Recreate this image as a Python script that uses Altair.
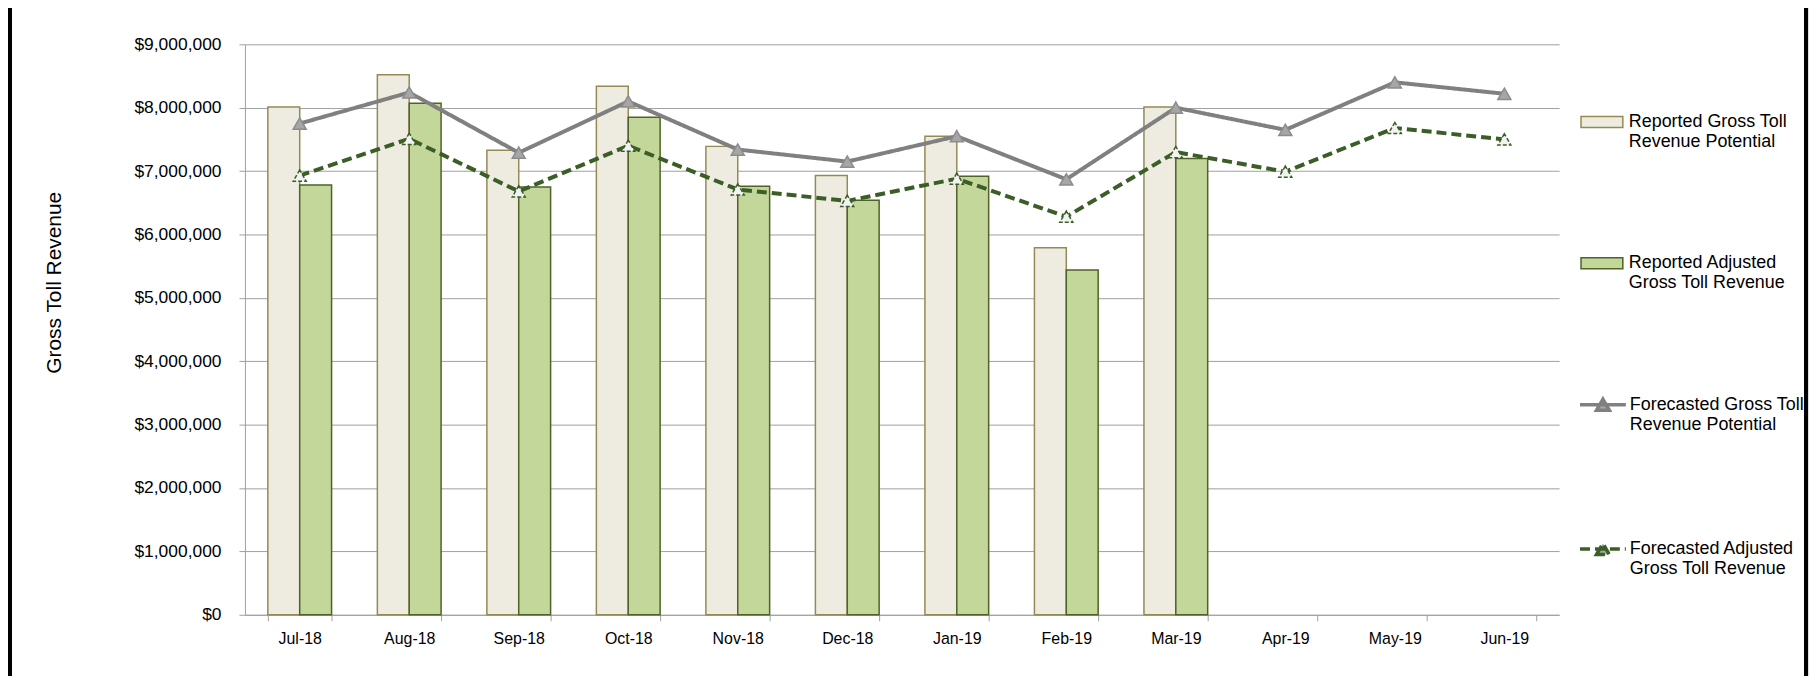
import altair as alt
import pandas as pd

months = ["Jul-18", "Aug-18", "Sep-18", "Oct-18", "Nov-18", "Dec-18",
          "Jan-19", "Feb-19", "Mar-19", "Apr-19", "May-19", "Jun-19"]

bar_names = ["Reported Gross Toll Revenue Potential",
             "Reported Adjusted Gross Toll Revenue"]
line_names = ["Forecasted Gross Toll Revenue Potential",
              "Forecasted Adjusted Gross Toll Revenue"]

reported_potential = [8010000, 8520000, 7330000, 8340000, 7390000, 6930000,
                      7550000, 5790000, 8010000]
reported_adjusted = [6780000, 8070000, 6750000, 7850000, 6760000, 6540000,
                     6920000, 5440000, 7200000]
forecast_potential = [7750000, 8240000, 7290000, 8100000, 7340000, 7150000,
                      7550000, 6870000, 8000000, 7650000, 8400000, 8220000]
forecast_adjusted = [6930000, 7510000, 6680000, 7400000, 6710000, 6530000,
                     6880000, 6280000, 7300000, 6990000, 7680000, 7500000]

legend_lines = {
    bar_names[0]: ["Reported Gross Toll", "Revenue Potential"],
    bar_names[1]: ["Reported Adjusted", "Gross Toll Revenue"],
    line_names[0]: ["Forecasted Gross Toll", "Revenue Potential"],
    line_names[1]: ["Forecasted Adjusted", "Gross Toll Revenue"],
}

y_ticks = [0, 1000000, 2000000, 3000000, 4000000, 5000000, 6000000,
           7000000, 8000000, 9000000]

# ---- tables built from the arrays ----
bar_rows = []
for name, vals in zip(bar_names, [reported_potential, reported_adjusted]):
    for m, v in zip(months, vals):
        bar_rows.append({"month": m, "series": name, "value": v})
bar_df = pd.DataFrame(bar_rows)

line_rows = []
for name, vals in zip(line_names, [forecast_potential, forecast_adjusted]):
    for m, v in zip(months, vals):
        line_rows.append({"month": m, "lseries": name, "value": v})
line_df = pd.DataFrame(line_rows)


def label_expr(names):
    parts = []
    for n in names:
        l1, l2 = legend_lines[n]
        parts.append(f"datum.label == '{n}' ? ['{l1}', '{l2}']")
    return " : ".join(parts) + " : datum.label"


FONT = "Liberation Sans"
GRID = "#9F9F9F"

x_scale = alt.Scale(domain=months, paddingInner=0.418, paddingOuter=0.209)
y_scale = alt.Scale(domain=[0, 9000000], nice=False)

x_axis = alt.Axis(title=None, labelAngle=0, tickBand="extent", tickSize=6,
                  tickColor=GRID, domainColor=GRID, labelFontSize=16,
                  labelFont=FONT, labelColor="#000000", labelPadding=10,
                  grid=False)
y_axis = alt.Axis(title="Gross Toll Revenue", values=y_ticks, format="$,.0f",
                  tickSize=6, tickColor=GRID, domainColor=GRID, gridColor=GRID,
                  grid=True, labelFontSize=17.5, labelFont=FONT,
                  labelColor="#000000", labelPadding=18,
                  titleFont=FONT, titleFontSize=21, titleFontWeight="normal",
                  titleColor="#000000", titleX=-191, titleY=239,
                  titleAngle=270, titleAlign="center", titleBaseline="middle")

bars = alt.Chart(bar_df).mark_bar(strokeWidth=1.5).encode(
    x=alt.X("month:N", sort=months, scale=x_scale, axis=x_axis),
    xOffset=alt.XOffset("series:N", sort=bar_names,
                        scale=alt.Scale(domain=bar_names, paddingInner=0,
                                        paddingOuter=0)),
    y=alt.Y("value:Q", scale=y_scale, axis=y_axis),
    fill=alt.Fill("series:N",
                  scale=alt.Scale(domain=bar_names,
                                  range=["#EEECE1", "#C4D79B"]),
                  legend=alt.Legend(
                      title=None, orient="none", legendX=1341, legendY=56,
                      symbolType="M-1,-0.262H1V0.262H-1Z", symbolSize=1764,
                      symbolStrokeWidth=1.5,
                      symbolStrokeColor={"expr": f"datum.value == '{bar_names[0]}' ? '#948A54' : '#4F6228'"},
                      labelExpr=label_expr(bar_names), labelFont=FONT,
                      labelFontSize=18, labelColor="#000000",
                      labelLimit=400, labelOffset=5, rowPadding=91,
                      labelBaseline="middle", padding=0)),
    stroke=alt.when(alt.datum.series == bar_names[0])
              .then(alt.value("#948A54"))
              .otherwise(alt.value("#4F6228")),
)

line_legend = alt.Legend(
    title=None, orient="none", legendX=1339, legendY=337,
    symbolType="M-1,0H1M-0.28,0.24L0,-0.24L0.28,0.24Z", symbolSize=2116,
    symbolStrokeWidth=3.5, symbolFillColor="#A6A6A6",
    labelExpr=label_expr(line_names), labelFont=FONT, labelFontSize=18,
    labelColor="#000000", labelLimit=400, labelOffset=2, rowPadding=91,
    labelBaseline="middle", padding=0)

lines = alt.Chart(line_df).mark_line(strokeWidth=4).encode(
    x=alt.X("month:N", sort=months, scale=x_scale, axis=x_axis),
    y=alt.Y("value:Q", scale=y_scale, axis=y_axis),
    stroke=alt.Stroke("lseries:N",
                      scale=alt.Scale(domain=line_names,
                                      range=["#808080", "#3B5E27"]),
                      legend=line_legend),
    strokeDash=alt.StrokeDash("lseries:N",
                              scale=alt.Scale(domain=line_names,
                                              range=[[1, 0], [10, 5]]),
                              legend=line_legend),
)

points = alt.Chart(line_df).mark_point(shape="triangle-up", filled=True,
                                       size=170, strokeWidth=1.5,
                                       opacity=1).encode(
    x=alt.X("month:N", sort=months, scale=x_scale, axis=x_axis),
    y=alt.Y("value:Q", scale=y_scale, axis=y_axis),
    fill=alt.when(alt.datum.lseries == line_names[0])
            .then(alt.value("#A6A6A6"))
            .otherwise(alt.value("#F2F2F2")),
    stroke=alt.when(alt.datum.lseries == line_names[0])
              .then(alt.value("#8C8C8C"))
              .otherwise(alt.value("#3B5E27")),
    strokeDash=alt.when(alt.datum.lseries == line_names[0])
                  .then(alt.value([1, 0]))
                  .otherwise(alt.value([4, 2])),
)

frame_left = alt.Chart(bar_df).mark_rule(color="#000000", strokeWidth=3.5).encode(
    x=alt.value(-236.5), y=alt.value(-40), y2=alt.value(700))
frame_right = alt.Chart(bar_df).mark_rule(color="#000000", strokeWidth=4).encode(
    x=alt.value(1568), y=alt.value(-40), y2=alt.value(700))

chart = alt.layer(bars, lines, points, frame_left, frame_right).properties(
    width=1320, height=573,
    autosize=alt.AutoSizeParams(type="none"),
    padding={"left": 238, "top": 35, "right": 252, "bottom": 60},
    background="#FFFFFF",
).configure_view(stroke=None)

chart.save("out.html", embed_options={"renderer": "svg", "actions": False})
